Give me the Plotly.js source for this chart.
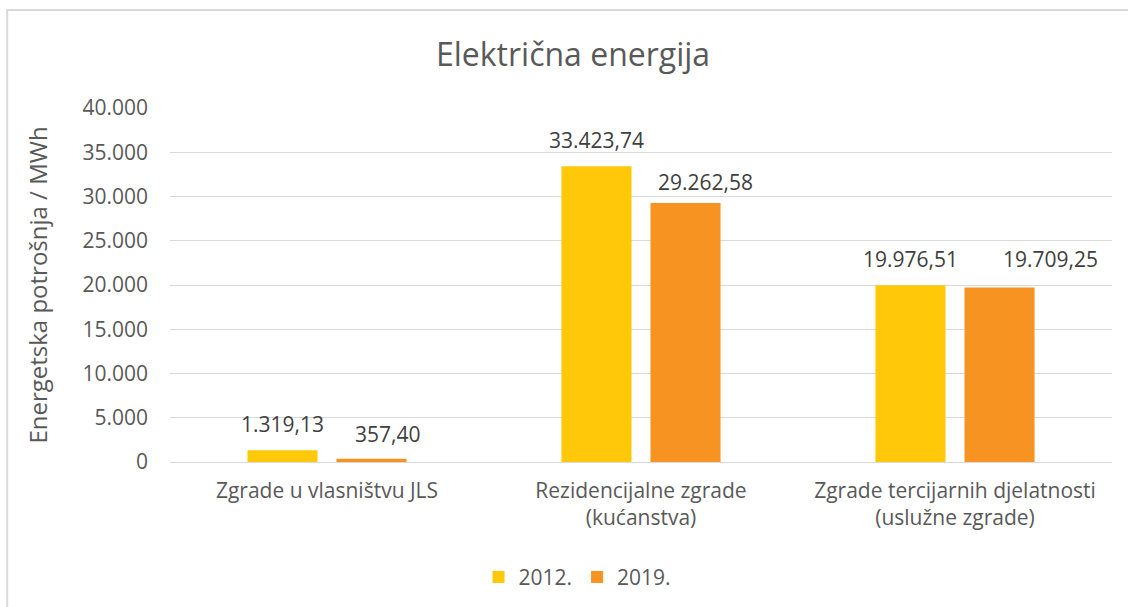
<!DOCTYPE html>
<html>
<head>
<meta charset="utf-8">
<script src="https://cdn.plot.ly/plotly-3.0.1.min.js"></script>
<style>html,body{margin:0;padding:0;background:#fff;}#chart{width:1128px;height:607px;}</style>
</head>
<body>
<div id="chart"></div>
<script>
const categories = ["Zgrade u vlasništvu JLS", "Rezidencijalne zgrade<br>(kućanstva)", "Zgrade tercijarnih djelatnosti<br>(uslužne zgrade)"];
const series2012 = [1319.13, 33423.74, 19976.51];
const series2019 = [357.40, 29262.58, 19709.25];
const seriesNames = ["2012.", "2019."];
const seriesColors = ["#FFC90A", "#F79421"];
const tickValues = [0, 5000, 10000, 15000, 20000, 25000, 30000, 35000, 40000];

const fontFam = "Open Sans, Noto Sans, sans-serif";

function fmt(v) {
  const parts = v.toFixed(2).split(".");
  const intPart = parts[0].replace(/\B(?=(\d{3})+(?!\d))/g, ".");
  return intPart + "," + parts[1];
}

const allSeries = [series2012, series2019];
const data = allSeries.map((ys, i) => ({
  type: "bar", name: seriesNames[i], x: categories, y: ys,
  marker: {color: seriesColors[i]}, hoverinfo: "skip"
}));

// label placement (style only, pixel offsets of the data labels as placed in the original)
const groupOffset = 44.5;
const labelDx = [[0, 0, 0], [16, 20, 51]];
const labelDy = [[26, 26, 26], [25, 21, 29]];

const annotations = [];
allSeries.forEach((ys, i) => {
  ys.forEach((v, j) => {
    annotations.push({
      x: categories[j], y: v, xref: "x", yref: "y",
      text: fmt(v), showarrow: false,
      xshift: (i === 0 ? -1 : 1) * groupOffset + labelDx[i][j], yshift: labelDy[i][j],
      yanchor: "middle", xanchor: "center",
      font: {size: 21, color: "#404040", family: fontFam}
    });
  });
});

const layout = {
  width: 1128, height: 607,
  margin: {l: 170, r: 16, t: 108, b: 145},
  separators: ",.",
  paper_bgcolor: "#fff", plot_bgcolor: "#fff",
  font: {family: fontFam, color: "#595959", size: 21},
  title: {text: "Električna energija", font: {size: 32, color: "#595959", family: fontFam},
          xref: "container", x: 0.508, xanchor: "center", yref: "container", y: 0.909, yanchor: "middle"},
  barmode: "group", bargap: 0.433, bargroupgap: 0.213,
  xaxis: {showgrid: false, showline: false, zeroline: false, ticks: "", ticklabelstandoff: 14,
          tickfont: {size: 21, color: "#595959"}, fixedrange: true},
  yaxis: {range: [0, 40000], tickvals: tickValues, tickformat: ",d", showgrid: true, gridcolor: "#D9D9D9", gridwidth: 1,
          zeroline: true, zerolinecolor: "#D9D9D9", zerolinewidth: 1, showline: false, ticks: "",
          ticklabelstandoff: 21,
          tickfont: {size: 21, color: "#595959"},
          title: {text: "Energetska potrošnja / MWh", font: {size: 24, color: "#595959"}, standoff: 28}},
  showlegend: true,
  legend: {orientation: "h", xref: "container", x: 0.512, xanchor: "center", yref: "container", y: 0.049, yanchor: "middle",
           font: {size: 21, color: "#595959"}, itemwidth: 30, traceorder: "normal"},
  annotations: annotations,
  shapes: [{type: "rect", xref: "paper", yref: "paper", x0: -0.1728, x1: 1.2, y0: -0.8, y1: 1.2768,
            line: {color: "#D9D9D9", width: 2}, fillcolor: "rgba(0,0,0,0)", layer: "below"}]
};
Plotly.newPlot("chart", data, layout, {displayModeBar: false, staticPlot: true});
</script>
</body>
</html>
